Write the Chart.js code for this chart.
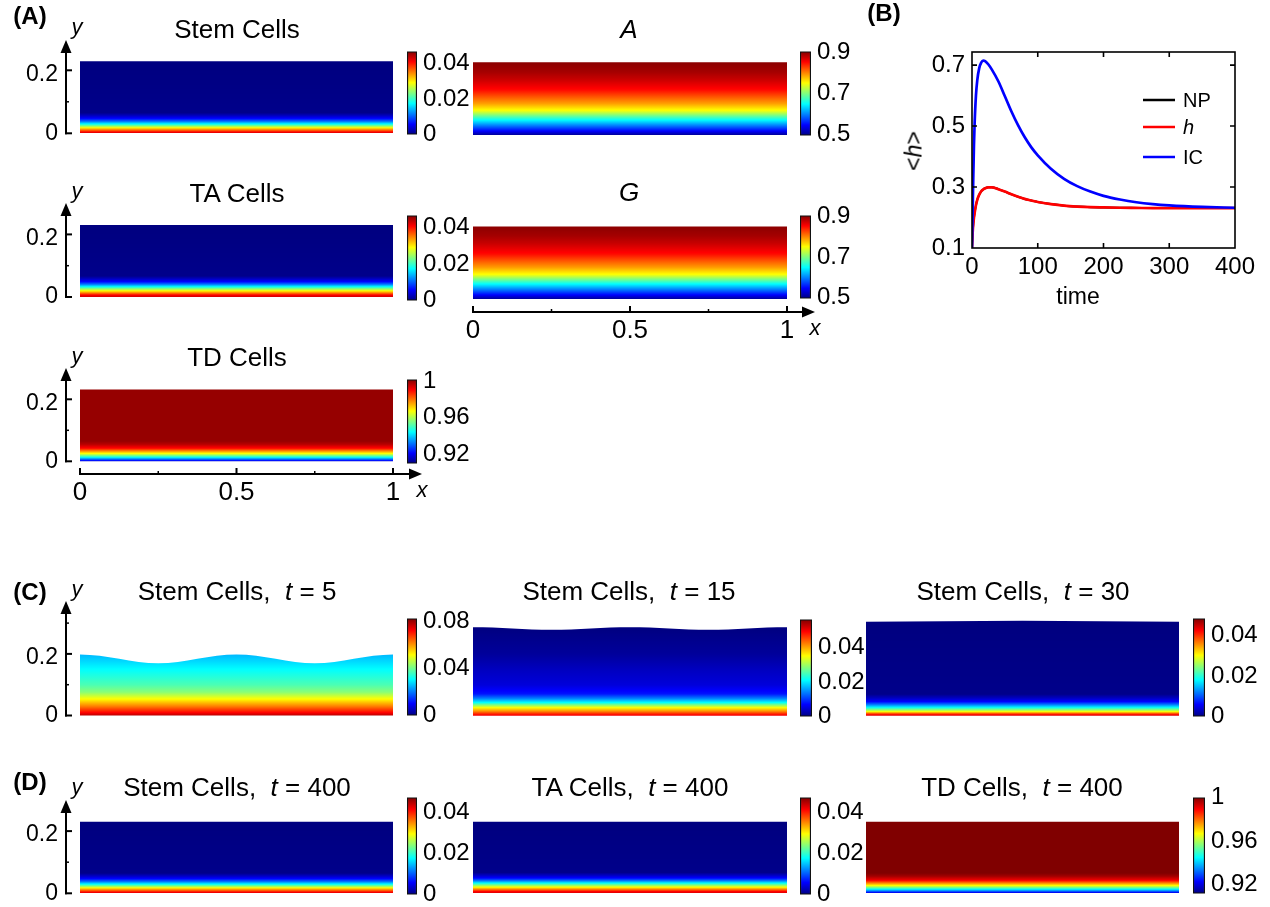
<!DOCTYPE html>
<html><head><meta charset="utf-8">
<script src="https://cdn.jsdelivr.net/npm/chart.js@4.4.1/dist/chart.umd.min.js"></script>
<style>
html,body{margin:0;padding:0;background:#fff;}
#root{position:relative;width:1270px;height:907px;overflow:hidden;font-family:"Liberation Sans",Arial,sans-serif;color:#000;}
canvas{position:absolute;}
.t{position:absolute;transform:translate(-50%,-50%);white-space:pre;line-height:1;font-size:26px;}
</style></head><body><div id="root"></div>
<script>
// ================= DATA =================
// (B) mean height <h> versus time
const timeB  = [0, 1, 2, 3, 4, 6, 8, 11, 14, 17, 20, 25, 30, 40, 50, 60, 70, 80, 90, 100, 120, 140, 160, 180, 200, 225, 250, 275, 300, 350, 400];
const icVals = [0.10, 0.22, 0.34, 0.44, 0.51, 0.60, 0.65, 0.69, 0.708, 0.715, 0.713, 0.702, 0.686, 0.647, 0.598, 0.548, 0.503, 0.464, 0.431, 0.404, 0.360, 0.327, 0.303, 0.285, 0.271, 0.259, 0.250, 0.244, 0.240, 0.235, 0.232];
const hVals  = [0.10, 0.15, 0.18, 0.20, 0.215, 0.24, 0.258, 0.275, 0.286, 0.292, 0.296, 0.299, 0.299, 0.293, 0.285, 0.276, 0.268, 0.261, 0.256, 0.251, 0.244, 0.239, 0.236, 0.234, 0.233, 0.232, 0.2315, 0.231, 0.231, 0.231, 0.231];
const npVals = [0.10, 0.15, 0.18, 0.20, 0.215, 0.24, 0.258, 0.275, 0.286, 0.292, 0.296, 0.299, 0.299, 0.293, 0.285, 0.276, 0.268, 0.261, 0.256, 0.251, 0.244, 0.239, 0.236, 0.234, 0.233, 0.232, 0.2315, 0.231, 0.231, 0.231, 0.231];
const seriesNames = ['NP', 'h', 'IC'];
const xTicksB = [0, 100, 200, 300, 400];
const yTicksB = [0.1, 0.3, 0.5, 0.7];

// vertical concentration profiles (y position, value)
const stemProfY = [0, 0.004, 0.010, 0.017, 0.023, 0.029, 0.038, 0.047, 0.056, 0.065, 0.23];
const stemProfV = [0.043, 0.041, 0.036, 0.030, 0.024, 0.018, 0.011, 0.006, 0.003, 0.0005, 0];
const taProfY   = [0, 0.006, 0.013, 0.020, 0.027, 0.033, 0.041, 0.049, 0.058, 0.067, 0.23];
const taProfV   = [0.043, 0.041, 0.035, 0.029, 0.023, 0.0175, 0.011, 0.006, 0.003, 0.0005, 0];
const tdProfY   = [0, 0.002, 0.013, 0.025, 0.042, 0.055, 0.065, 0.23];
const tdProfV   = [0.916, 0.922, 0.945, 0.967, 0.990, 0.997, 1.0, 1.0];
const agProfY   = [0, 0.014, 0.048, 0.078, 0.10, 0.143, 0.175, 0.20, 0.23];
const agProfV   = [0.505, 0.55, 0.65, 0.75, 0.79, 0.85, 0.875, 0.89, 0.90];
const t5ProfY   = [0, 0.01, 0.03, 0.055, 0.076, 0.10, 0.15, 0.20];
const t5ProfV   = [0.078, 0.072, 0.062, 0.051, 0.042, 0.037, 0.031, 0.025];
const t15ProfY  = [0, 0.006, 0.015, 0.026, 0.035, 0.043, 0.056, 0.071, 0.10, 0.15, 0.20, 0.29];
const t15ProfV  = [0.050, 0.047, 0.041, 0.035, 0.028, 0.021, 0.014, 0.008, 0.005, 0.0035, 0.0015, 0];
const t30ProfY  = [0, 0.004, 0.009, 0.013, 0.020, 0.027, 0.036, 0.046, 0.058, 0.070, 0.31];
const t30ProfV  = [0.044, 0.042, 0.036, 0.030, 0.024, 0.018, 0.012, 0.006, 0.003, 0.0005, 0];

// top boundary of the tissue (x, height)
const flatX   = [0, 1];
const stemTop = [0.229, 0.229];
const aTop    = [0.231, 0.231];
const taTop   = [0.230, 0.230];
const gTop    = [0.230, 0.230];
const tdTop   = [0.232, 0.232];
const steadyTop = [0.230, 0.230];
const waveX   = [0, 0.0625, 0.125, 0.1875, 0.25, 0.3125, 0.375, 0.4375, 0.5, 0.5625, 0.625, 0.6875, 0.75, 0.8125, 0.875, 0.9375, 1];
const t5Top   = [0.198, 0.194, 0.184, 0.174, 0.170, 0.174, 0.184, 0.194, 0.198, 0.194, 0.184, 0.174, 0.170, 0.174, 0.184, 0.194, 0.198];
const t15Top  = [0.287, 0.286, 0.283, 0.280, 0.279, 0.280, 0.283, 0.286, 0.287, 0.286, 0.283, 0.280, 0.279, 0.280, 0.283, 0.286, 0.287];
const t30X    = [0, 0.25, 0.5, 0.75, 1];
const t30Top  = [0.305, 0.3065, 0.308, 0.3065, 0.305];

// colour ranges and colour-bar ticks
const rangeStem = [0, 0.0467];
const rangeAG   = [0.495, 0.905];
const rangeTD   = [0.910, 1.002];
const rangeT5   = [0, 0.0826];
const rangeT15  = [0, 0.056];
const rangeT30  = [0, 0.0484];
const rangeD    = [0, 0.047];
const rangeTDD  = [0.912, 1.0];
const cbTicksSmall = [0, 0.02, 0.04];
const cbLabelsSmall = ['0', '0.02', '0.04'];
const cbTicksAG = [0.5, 0.7, 0.9];
const cbLabelsAG = ['0.5', '0.7', '0.9'];
const cbTicksTD = [0.92, 0.96, 1];
const cbLabelsTD = ['0.92', '0.96', '1'];
const cbTicksT5 = [0, 0.04, 0.08];
const cbLabelsT5 = ['0', '0.04', '0.08'];
const yAxisMajor = [0, 0.2];
const yAxisLabels = ['0', '0.2'];
const xAxisMajor = [0, 0.5, 1];
const xAxisLabels = ['0', '0.5', '1'];
const xAxisMinor = [0.25, 0.75];

// ================= HELPERS =================
const FONT = '"Liberation Sans", Arial, sans-serif';
Chart.defaults.font.family = FONT;
Chart.defaults.color = '#000';
const root = document.getElementById('root');

function jet(t){
  t = Math.max(0, Math.min(1, t));
  const c = x => Math.round(255 * Math.max(0, Math.min(1, x)));
  return 'rgb(' + c(1.5 - Math.abs(4*t - 3)) + ',' + c(1.5 - Math.abs(4*t - 2)) + ',' + c(1.5 - Math.abs(4*t - 1)) + ')';
}
function interp(xs, ys, x){
  if (x <= xs[0]) return ys[0];
  for (let i = 1; i < xs.length; i++){
    if (x <= xs[i]){ const f = (x - xs[i-1]) / (xs[i] - xs[i-1]); return ys[i-1] + f * (ys[i] - ys[i-1]); }
  }
  return ys[ys.length - 1];
}
function addCanvas(left, top, w, h){
  const c = document.createElement('canvas');
  c.width = w; c.height = h;
  c.style.left = left + 'px'; c.style.top = top + 'px';
  c.style.width = w + 'px'; c.style.height = h + 'px';
  root.appendChild(c); return c;
}
function addText(html, x, y, css){
  const d = document.createElement('div');
  d.className = 't'; d.innerHTML = html;
  d.style.left = x + 'px'; d.style.top = y + 'px';
  Object.assign(d.style, css || {});
  root.appendChild(d); return d;
}

function axisPlugin(p){
  return { id: 'arrowAxes', afterDatasetsDraw(ch){
    const ctx = ch.ctx, xs = ch.scales.x, ys = ch.scales.y, a = ch.chartArea;
    ctx.save();
    ctx.strokeStyle = '#000'; ctx.fillStyle = '#000'; ctx.lineWidth = 2;
    if (p.yAxis){
      const px = a.left + 1, y0 = ys.getPixelForValue(0), tip = a.top, base = tip + 13;
      ctx.beginPath(); ctx.moveTo(px, y0 + 1); ctx.lineTo(px, base); ctx.stroke();
      ctx.beginPath(); ctx.moveTo(px, tip); ctx.lineTo(px - 5.5, base); ctx.lineTo(px + 5.5, base); ctx.closePath(); ctx.fill();
      yAxisMajor.forEach(v => { const y = ys.getPixelForValue(v); ctx.beginPath(); ctx.moveTo(px - 1, y); ctx.lineTo(px + 6, y); ctx.stroke(); });
      p.yAxis.minor.forEach(v => { const y = ys.getPixelForValue(v); ctx.beginPath(); ctx.moveTo(px, y); ctx.lineTo(px + 3, y); ctx.lineWidth = 1.5; ctx.stroke(); ctx.lineWidth = 2; });
      ctx.font = '23px ' + FONT; ctx.textAlign = 'right'; ctx.textBaseline = 'middle';
      yAxisMajor.forEach((v, i) => ctx.fillText(yAxisLabels[i], px - 8, ys.getPixelForValue(v) + (v > 0 ? 4 : 0)));
    }
    if (p.xAxis){
      const py = a.bottom - 1, x0 = xs.getPixelForValue(0), tip = a.right, base = tip - 13;
      ctx.beginPath(); ctx.moveTo(x0 - 1, py); ctx.lineTo(base, py); ctx.stroke();
      ctx.beginPath(); ctx.moveTo(tip, py); ctx.lineTo(base, py - 5.5); ctx.lineTo(base, py + 5.5); ctx.closePath(); ctx.fill();
      xAxisMajor.forEach(v => { const x = xs.getPixelForValue(v); ctx.beginPath(); ctx.moveTo(x, py + 1); ctx.lineTo(x, py - 6); ctx.stroke(); });
      xAxisMinor.forEach(v => { const x = xs.getPixelForValue(v); ctx.beginPath(); ctx.moveTo(x, py); ctx.lineTo(x, py - 3); ctx.lineWidth = 1.5; ctx.stroke(); ctx.lineWidth = 2; });
      ctx.font = '26px ' + FONT; ctx.textAlign = 'center'; ctx.textBaseline = 'middle';
      xAxisMajor.forEach((v, i) => ctx.fillText(xAxisLabels[i], xs.getPixelForValue(v), py + 19));
    }
    ctx.restore();
  }};
}

function heatPanel(p){
  const W = p.R - p.L;
  const aL = Math.round(p.yAxis ? p.yAxis.px : p.L);
  const aR = Math.round(p.xAxis ? p.xAxis.tipPx : p.R);
  const aT = Math.round(p.B0 - p.ymax * p.S);
  const aB = Math.round(p.xAxis ? p.xAxis.py : p.B0);
  const xmin = (aL - p.L) / W, xmax = (aR - p.L) / W;
  const ymax = (p.B0 - aT) / p.S, ymin = (p.B0 - aB) / p.S;
  const pad = 50;
  const cv = addCanvas(aL - pad, aT - pad, aR - aL + 2*pad, aB - aT + 2*pad);
  const [cmin, cmax] = p.range;
  new Chart(cv, {
    type: 'line',
    data: { datasets: [{
      data: p.topX.map((x, i) => ({ x: x, y: p.topY[i] })),
      fill: 'origin', borderColor: 'rgba(0,0,0,0)', borderWidth: 0, pointRadius: 0,
      tension: 0.4, cubicInterpolationMode: 'monotone',
      backgroundColor: (c) => {
        const ch = c.chart;
        if (!ch.chartArea) return 'rgba(0,0,0,0)';
        const ys = ch.scales.y;
        const top = Math.max.apply(null, p.topY);
        const g = ch.ctx.createLinearGradient(0, ys.getPixelForValue(0), 0, ys.getPixelForValue(top));
        const N = 120;
        for (let i = 0; i <= N; i++){
          const yv = top * i / N;
          const v = interp(p.profY, p.profV, yv);
          g.addColorStop(i / N, jet((v - cmin) / (cmax - cmin)));
        }
        return g;
      }
    }]},
    options: {
      responsive: false, animation: false, events: [],
      layout: { padding: pad },
      plugins: { legend: { display: false }, tooltip: { enabled: false } },
      scales: {
        x: { type: 'linear', min: xmin, max: xmax, display: false },
        y: { type: 'linear', min: ymin, max: ymax, display: false }
      }
    },
    plugins: [axisPlugin(p)]
  });
}

function colorbar(c){
  const w = Math.round(c.right - c.left), h = Math.round(c.bottom - c.top);
  const padT = 20, padB = 20, axisW = 62;
  const cv = addCanvas(Math.round(c.left), Math.round(c.top) - padT, w + axisW, h + padT + padB);
  new Chart(cv, {
    type: 'bar',
    data: { labels: ['c'], datasets: [{
      data: [[c.range[0], c.range[1]]],
      backgroundColor: (ctx) => {
        const ch = ctx.chart;
        if (!ch.chartArea) return 'rgba(0,0,0,0)';
        const ys = ch.scales.y;
        const g = ch.ctx.createLinearGradient(0, ys.getPixelForValue(c.range[0]), 0, ys.getPixelForValue(c.range[1]));
        [0, 0.125, 0.375, 0.625, 0.875, 1].forEach(t => g.addColorStop(t, jet(t)));
        return g;
      },
      borderColor: '#111', borderWidth: 1.5, borderSkipped: false,
      barPercentage: 1, categoryPercentage: 1
    }]},
    options: {
      responsive: false, animation: false, events: [],
      layout: { padding: { top: padT, bottom: padB, left: 0, right: 0 } },
      plugins: { legend: { display: false }, tooltip: { enabled: false } },
      scales: {
        x: { display: false },
        y: { position: 'right', min: c.range[0], max: c.range[1],
             grid: { display: false, drawTicks: false }, border: { display: false },
             afterFit(s){ s.width = axisW; },
             afterBuildTicks(s){ s.ticks = c.ticks.map(v => ({ value: v })); },
             ticks: { padding: 6, color: '#000', font: { family: FONT, size: 24 }, autoSkip: false,
                      callback: (v, i) => c.labels[i] } }
      }
    }
  });
}

// ================= PANELS =================
const yAx = (px, minor) => ({ px: px, minor: minor });

// (A)
heatPanel({ L: 80, R: 393, B0: 133.3, S: 315, ymax: 0.295, topX: flatX, topY: stemTop, profY: stemProfY, profV: stemProfV, range: rangeStem, yAxis: yAx(65, [0.1]) });
colorbar({ left: 407, right: 417, top: 51, bottom: 135, range: rangeStem, ticks: cbTicksSmall, labels: cbLabelsSmall });
heatPanel({ L: 473, R: 787, B0: 135, S: 315, ymax: 0.236, topX: flatX, topY: aTop, profY: agProfY, profV: agProfV, range: rangeAG });
colorbar({ left: 800, right: 811, top: 51, bottom: 136, range: rangeAG, ticks: cbTicksAG, labels: cbLabelsAG });

heatPanel({ L: 80, R: 393, B0: 297, S: 313, ymax: 0.299, topX: flatX, topY: taTop, profY: taProfY, profV: taProfV, range: rangeStem, yAxis: yAx(65, [0.1]) });
colorbar({ left: 407, right: 417, top: 215, bottom: 300.7, range: rangeStem, ticks: cbTicksSmall, labels: cbLabelsSmall });
heatPanel({ L: 473, R: 787, B0: 299, S: 315, ymax: 0.236, topX: flatX, topY: gTop, profY: agProfY, profV: agProfV, range: rangeAG, xAxis: { py: 313, tipPx: 815 } });
colorbar({ left: 800, right: 811, top: 215, bottom: 299, range: rangeAG, ticks: cbTicksAG, labels: cbLabelsAG });

heatPanel({ L: 80, R: 393, B0: 461.3, S: 310, ymax: 0.301, topX: flatX, topY: tdTop, profY: tdProfY, profV: tdProfV, range: rangeTD, yAxis: yAx(65, [0.1]), xAxis: { py: 475, tipPx: 422 } });
colorbar({ left: 407, right: 417, top: 379, bottom: 464, range: rangeTD, ticks: cbTicksTD, labels: cbLabelsTD });

// (C)
heatPanel({ L: 80, R: 393, B0: 715.5, S: 308, ymax: 0.373, topX: waveX, topY: t5Top, profY: t5ProfY, profV: t5ProfV, range: rangeT5, yAxis: yAx(65, [0.1, 0.3]) });
colorbar({ left: 407, right: 417, top: 618, bottom: 716, range: rangeT5, ticks: cbTicksT5, labels: cbLabelsT5 });
heatPanel({ L: 473, R: 787, B0: 715.7, S: 308, ymax: 0.295, topX: waveX, topY: t15Top, profY: t15ProfY, profV: t15ProfV, range: rangeT15 });
colorbar({ left: 800, right: 812, top: 619, bottom: 717, range: rangeT15, ticks: cbTicksSmall, labels: cbLabelsSmall });
heatPanel({ L: 866, R: 1179, B0: 715.7, S: 308, ymax: 0.315, topX: t30X, topY: t30Top, profY: t30ProfY, profV: t30ProfV, range: rangeT30 });
colorbar({ left: 1193, right: 1205, top: 618, bottom: 717, range: rangeT30, ticks: cbTicksSmall, labels: cbLabelsSmall });

// (D)
heatPanel({ L: 80, R: 393, B0: 893.3, S: 311, ymax: 0.30, topX: flatX, topY: steadyTop, profY: stemProfY, profV: stemProfV, range: rangeD, yAxis: yAx(65, [0.1]) });
colorbar({ left: 407, right: 417, top: 797, bottom: 895, range: rangeD, ticks: cbTicksSmall, labels: cbLabelsSmall });
heatPanel({ L: 473, R: 787, B0: 893.3, S: 311, ymax: 0.236, topX: flatX, topY: steadyTop, profY: taProfY, profV: taProfV, range: rangeD });
colorbar({ left: 800, right: 811, top: 797, bottom: 895, range: rangeD, ticks: cbTicksSmall, labels: cbLabelsSmall });
heatPanel({ L: 866, R: 1179, B0: 893.3, S: 311, ymax: 0.236, topX: flatX, topY: steadyTop, profY: tdProfY, profV: tdProfV, range: rangeTDD });
colorbar({ left: 1193, right: 1205, top: 797, bottom: 894, range: rangeTDD, ticks: cbTicksTD, labels: cbLabelsTD });

// (B) line chart
const boxPlugin = { id: 'matlabBox', afterDraw(ch){
  const ctx = ch.ctx, a = ch.chartArea, xs = ch.scales.x, ys = ch.scales.y;
  ctx.save(); ctx.strokeStyle = '#000'; ctx.lineWidth = 1.6;
  ctx.strokeRect(a.left, a.top, a.right - a.left, a.bottom - a.top);
  ctx.beginPath();
  xTicksB.slice(1, -1).forEach(v => { const x = xs.getPixelForValue(v); ctx.moveTo(x, a.bottom); ctx.lineTo(x, a.bottom - 5); ctx.moveTo(x, a.top); ctx.lineTo(x, a.top + 5); });
  yTicksB.slice(1).forEach(v => { const y = ys.getPixelForValue(v); ctx.moveTo(a.left, y); ctx.lineTo(a.left + 5, y); ctx.moveTo(a.right, y); ctx.lineTo(a.right - 5, y); });
  ctx.stroke();
  // legend
  const rows = [48, 75, 105];
  ch.data.datasets.forEach((ds, i) => {
    const y = a.top + rows[i];
    ctx.strokeStyle = ds.borderColor; ctx.lineWidth = 2.5;
    ctx.beginPath(); ctx.moveTo(a.right - 92, y); ctx.lineTo(a.right - 60, y); ctx.stroke();
    ctx.fillStyle = '#000'; ctx.textAlign = 'left'; ctx.textBaseline = 'middle';
    ctx.font = (ds.label === 'h' ? 'italic ' : '') + '20px ' + FONT;
    ctx.fillText(ds.label, a.right - 52, y + 1);
  });
  ctx.restore();
}};
const cvB = addCanvas(860, 30, 410, 290);
new Chart(cvB, {
  type: 'line',
  data: { datasets: [
    { label: seriesNames[0], data: timeB.map((t, i) => ({ x: t, y: npVals[i] })), borderColor: '#000000', borderWidth: 2, order: 3 },
    { label: seriesNames[1], data: timeB.map((t, i) => ({ x: t, y: hVals[i] })), borderColor: '#ff0000', borderWidth: 2.7, order: 2 },
    { label: seriesNames[2], data: timeB.map((t, i) => ({ x: t, y: icVals[i] })), borderColor: '#0000ff', borderWidth: 2.7, order: 1 }
  ]},
  options: {
    responsive: false, animation: false, events: [],
    layout: { padding: { top: 22, right: 35, left: 0, bottom: 0 } },
    elements: { point: { radius: 0 }, line: { tension: 0.4, cubicInterpolationMode: 'monotone' } },
    plugins: { legend: { display: false }, tooltip: { enabled: false } },
    scales: {
      x: { type: 'linear', min: 0, max: 400,
           afterBuildTicks(s){ s.ticks = xTicksB.map(v => ({ value: v })); },
           afterFit(s){ s.height = 72; },
           grid: { display: false, drawTicks: false }, border: { display: false },
           ticks: { padding: 5, maxRotation: 0, autoSkip: false, font: { family: FONT, size: 24 }, color: '#000' } },
      y: { type: 'linear', min: 0.1, max: 0.743,
           afterBuildTicks(s){ s.ticks = yTicksB.map(v => ({ value: v })); },
           afterFit(s){ s.width = 112; },
           grid: { display: false, drawTicks: false }, border: { display: false },
           ticks: { padding: 7, autoSkip: false, font: { family: FONT, size: 24 }, color: '#000', callback: v => String(v) } }
    }
  },
  plugins: [boxPlugin]
});

// ================= TEXT =================
const bold = { fontWeight: 'bold', fontSize: '24px' };
addText('(A)', 30, 16, bold);
addText('(B)', 884, 13, bold);
addText('(C)', 30, 592, bold);
addText('(D)', 30, 782, bold);

addText('Stem Cells', 237, 29);
addText('<i>A</i>', 629, 29);
addText('TA Cells', 237, 193);
addText('<i>G</i>', 629, 192);
addText('TD Cells', 237, 357);
addText('Stem Cells,  <i>t</i> = 5', 237, 591);
addText('Stem Cells,  <i>t</i> = 15', 629, 591);
addText('Stem Cells,  <i>t</i> = 30', 1023, 591);
addText('Stem Cells,  <i>t</i> = 400', 237, 787);
addText('TA Cells,  <i>t</i> = 400', 630, 787);
addText('TD Cells,  <i>t</i> = 400', 1022, 787);

const it = { fontStyle: 'italic', fontSize: '22px' };
addText('y', 77, 27, it);
addText('y', 77, 191, it);
addText('y', 77, 356, it);
addText('y', 77, 589, it);
addText('y', 77, 787, it);
addText('x', 815, 328, it);
addText('x', 422, 490, it);

addText('time', 1078, 296, { fontSize: '23px' });
addText('&lt;<i>h</i>&gt;', 914, 151, { fontSize: '23px', transform: 'translate(-50%,-50%) rotate(-90deg)' });
</script>
</body></html>
